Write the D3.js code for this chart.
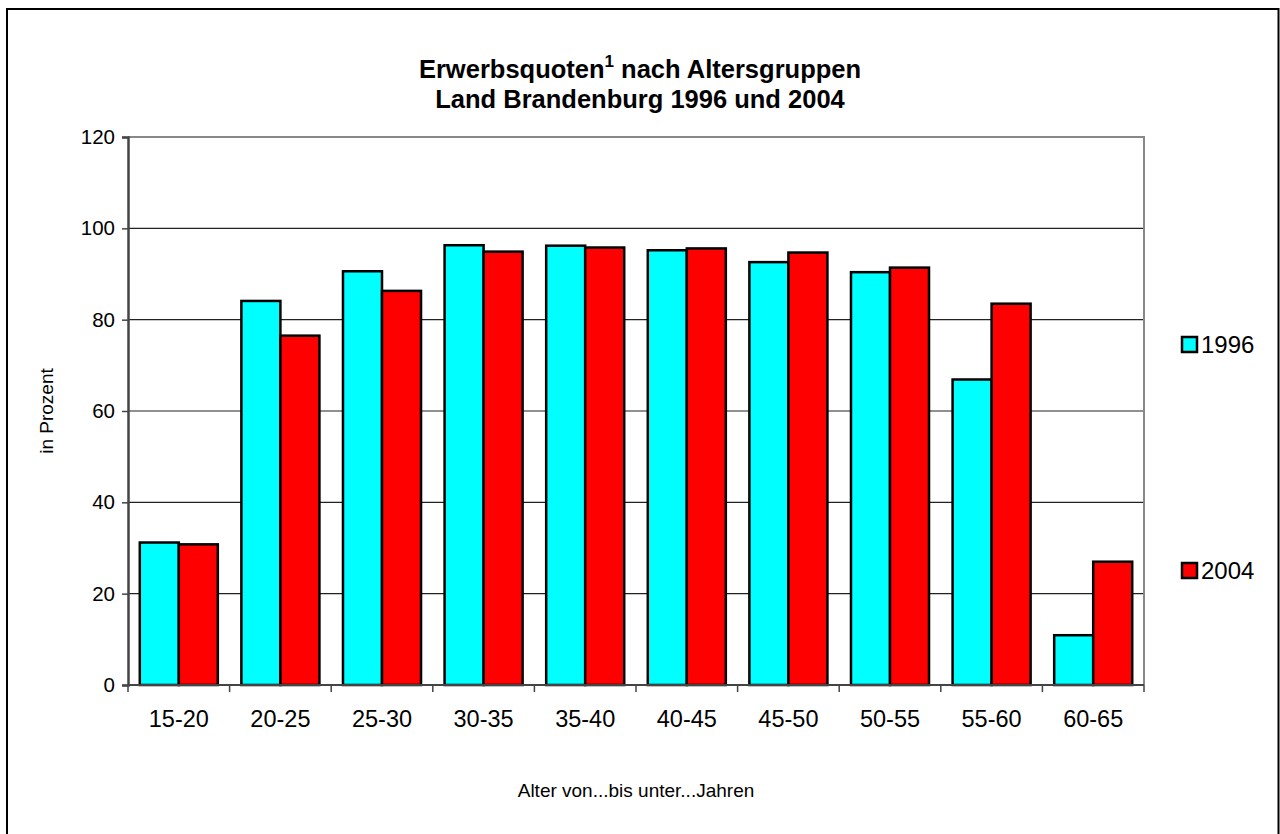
<!DOCTYPE html>
<html><head><meta charset="utf-8">
<script src="https://cdn.jsdelivr.net/npm/d3@7"></script>
<style>body{margin:0;background:#fff;font-family:"Liberation Sans",Arial,sans-serif}</style>
</head><body><svg id="c" width="1280" height="834"></svg>
<script>
const categories = ["15-20","20-25","25-30","30-35","35-40","40-45","45-50","50-55","55-60","60-65"];
const values1996 = [31.2, 84.1, 90.6, 96.3, 96.2, 95.2, 92.6, 90.4, 66.9, 10.9];
const values2004 = [30.8, 76.5, 86.3, 94.9, 95.8, 95.6, 94.7, 91.4, 83.5, 27.0];
const seriesNames = ["1996","2004"];
const seriesColors = ["#00FFFF","#FF0000"];
const yTicks = [0,20,40,60,80,100,120];

const svg = d3.select("#c");
const font = '"Liberation Sans",Arial,sans-serif';
svg.append("rect").attr("x",7).attr("y",9).attr("width",1271.5).attr("height",830)
  .attr("fill","#fff").attr("stroke","#000").attr("stroke-width",2);

const L=128, R=1144, T=137, B=685;
const x = d3.scaleBand().domain(categories).range([L,R]).paddingInner(0.232).paddingOuter(0.116);
const xs = d3.scaleBand().domain(seriesNames).range([0,x.bandwidth()]);
const y = d3.scaleLinear().domain([0,120]).range([B,T]);

// gridlines
svg.append("g").selectAll("line").data(yTicks.filter(d=>d>0 && d<120)).join("line")
  .attr("x1",L).attr("x2",R).attr("y1",d=>y(d)).attr("y2",d=>y(d))
  .attr("stroke","#222").attr("stroke-width",1.2);
// frame top/right
svg.append("path").attr("d",`M${L},${T}H${R}V${B}`).attr("fill","none").attr("stroke","#888").attr("stroke-width",2);

// bars
const data = categories.map((c,i)=>({c, vals:[values1996[i],values2004[i]]}));
const g = svg.append("g");
data.forEach(d=>{
  d.vals.forEach((v,j)=>{
    g.append("rect").attr("x",x(d.c)+xs(seriesNames[j])).attr("y",y(v))
      .attr("width",xs.bandwidth()).attr("height",B-y(v))
      .attr("fill",seriesColors[j]).attr("stroke","#000").attr("stroke-width",2.5);
  });
});

// y axis
const ya = svg.append("g").attr("transform",`translate(${L},0)`)
  .call(d3.axisLeft(y).tickValues(yTicks).tickSize(6).tickPadding(7));
ya.select(".domain").attr("stroke","#444").attr("stroke-width",2.5);
ya.selectAll(".tick line").attr("stroke","#444").attr("stroke-width",1.5);
ya.selectAll("text").attr("font-family",font).attr("font-size",20.5).attr("fill","#000");

// x axis
const xa = svg.append("g").attr("transform",`translate(0,${B})`)
  .call(d3.axisBottom(x).tickSize(0).tickPadding(0));
xa.select(".domain").attr("stroke","#444").attr("stroke-width",2).attr("d",`M${L},0H${R}`);
xa.selectAll("text").attr("font-family",font).attr("font-size",23.5).attr("fill","#000")
  .attr("dy",null).attr("y",42);
svg.append("g").selectAll("line").data(d3.range(categories.length+1)).join("line")
  .attr("x1",i=>L+i*(R-L)/categories.length).attr("x2",i=>L+i*(R-L)/categories.length)
  .attr("y1",B).attr("y2",B+7).attr("stroke","#444").attr("stroke-width",1.5);

// title
const t = svg.append("text").attr("x",640).attr("y",78).attr("text-anchor","middle")
  .attr("font-family",font).attr("font-weight","bold").attr("font-size",25.5);
t.append("tspan").text("Erwerbsquoten");
t.append("tspan").text("1").attr("font-size",17).attr("dy",-11);
t.append("tspan").text(" nach Altersgruppen").attr("dy",11);
svg.append("text").attr("x",640).attr("y",108).attr("text-anchor","middle")
  .attr("font-family",font).attr("font-weight","bold").attr("font-size",25.5)
  .text("Land Brandenburg 1996 und 2004");

// axis titles
svg.append("text").attr("transform","translate(53,411) rotate(-90)").attr("text-anchor","middle")
  .attr("font-family",font).attr("font-size",19).text("in Prozent");
svg.append("text").attr("x",636).attr("y",797).attr("text-anchor","middle")
  .attr("font-family",font).attr("font-size",19).text("Alter von...bis unter...Jahren");

// legend
const legY = [344, 570];
seriesNames.forEach((s,i)=>{
  svg.append("rect").attr("x",1182).attr("y",legY[i]-7).attr("width",15).attr("height",15)
    .attr("fill",seriesColors[i]).attr("stroke","#000").attr("stroke-width",2.5);
  svg.append("text").attr("x",1201).attr("y",legY[i]+9).attr("font-family",font).attr("font-size",24).text(s);
});
</script></body></html>
